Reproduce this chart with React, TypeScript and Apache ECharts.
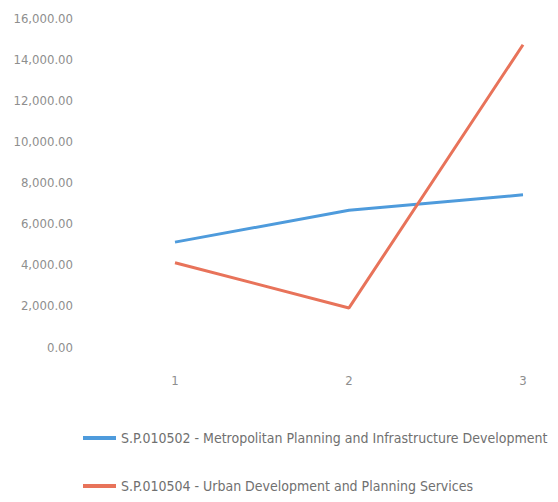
import React, { useEffect, useRef } from "react";
import * as echarts from "echarts";

const categories = ["1", "2", "3"];
const metroValues = [5100, 6650, 7400];
const urbanValues = [4100, 1900, 14700];
const seriesNames = [
  "S.P.010502 - Metropolitan Planning and Infrastructure Development",
  "S.P.010504 - Urban Development and Planning Services",
];

const FONT = "'DejaVu Sans Condensed', 'Liberation Sans Narrow', 'Liberation Sans', sans-serif";

function fmt(v: number): string {
  const s = v.toFixed(2);
  const [i, d] = s.split(".");
  return i.replace(/\B(?=(\d{3})+(?!\d))/g, ",") + "." + d;
}

export default function App() {
  const ref = useRef<HTMLDivElement>(null);
  useEffect(() => {
    if (!ref.current) return;
    const chart = echarts.init(ref.current, undefined, { renderer: "svg" });
    chart.setOption({
      animation: false,
      backgroundColor: "#ffffff",
      grid: { left: 175, right: 35, top: 18, bottom: 155 },
      xAxis: {
        type: "category",
        data: categories,
        boundaryGap: false,
        axisLine: { show: false },
        axisTick: { show: false },
        splitLine: { show: false },
        axisLabel: { color: "#8e8e8e", fontFamily: FONT, fontSize: 13, margin: 27 },
      },
      yAxis: {
        type: "value",
        min: 0,
        max: 16000,
        interval: 2000,
        axisLine: { show: false },
        axisTick: { show: false },
        splitLine: { show: false },
        axisLabel: {
          color: "#8e8e8e",
          fontFamily: FONT,
          fontSize: 13,
          margin: 102,
          formatter: (v: number) => fmt(v),
        },
      },
      legend: {
        orient: "vertical",
        left: 78,
        top: 426,
        itemGap: 34,
        icon: "rect",
        itemWidth: 33,
        itemHeight: 4,
        textStyle: { color: "#707070", fontFamily: FONT, fontSize: 14 },
        data: seriesNames,
      },
      series: [
        {
          name: seriesNames[0],
          type: "line",
          data: metroValues,
          symbol: "none",
          color: "#4e9bdc",
          lineStyle: { width: 3, color: "#4e9bdc" },
        },
        {
          name: seriesNames[1],
          type: "line",
          data: urbanValues,
          symbol: "none",
          color: "#e8735a",
          lineStyle: { width: 3, color: "#e8735a" },
        },
      ],
    });
    return () => chart.dispose();
  }, []);
  return (
    <div
      ref={ref}
      style={{ position: "fixed", left: 0, top: 0, width: 558, height: 502 }}
    />
  );
}
